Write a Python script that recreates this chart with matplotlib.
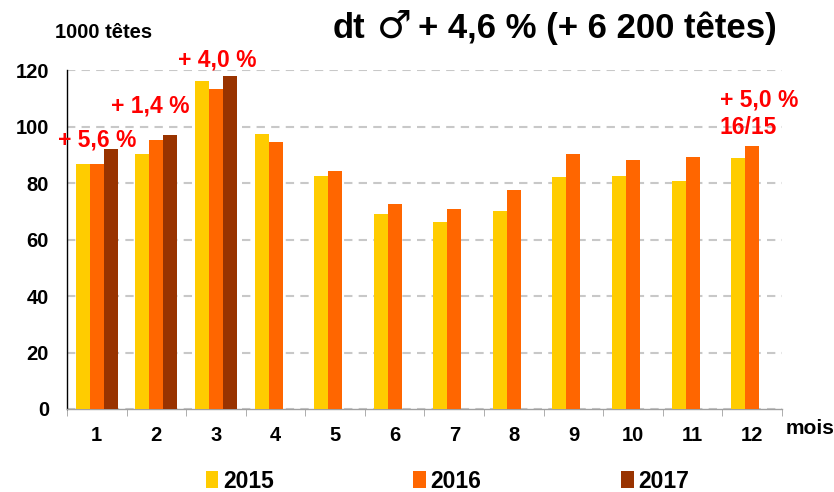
import matplotlib
matplotlib.use("Agg")
import matplotlib.pyplot as plt
import numpy as np
from matplotlib.patches import Patch

plt.rcParams['font.family'] = ['Liberation Sans', 'DejaVu Sans']
plt.rcParams['font.weight'] = 'bold'

months = ['1', '2', '3', '4', '5', '6', '7', '8', '9', '10', '11', '12']
v2015 = [86.7, 90.3, 116.0, 97.2, 82.5, 69.0, 66.2, 70.1, 82.1, 82.6, 80.7, 88.7]
v2016 = [86.7, 95.2, 113.2, 94.4, 84.1, 72.7, 70.9, 77.4, 90.2, 88.0, 89.1, 93.1]
v2017 = [91.9, 97.0, 117.9, np.nan, np.nan, np.nan, np.nan, np.nan, np.nan, np.nan, np.nan, np.nan]
series = ['2015', '2016', '2017']
colors = ['#FFCC00', '#FF6600', '#993300']
yticks = [0, 20, 40, 60, 80, 100, 120]

annotations = [('+ 5,6 %', 0.0, 95.2), ('+ 1,4 %', 0.9, 107.3), ('+ 4,0 %', 2.03, 123.5),
               ('+ 5,0 %', 11.12, 109.4), ('16/15', 10.94, 99.5)]

fig = plt.figure(figsize=(8.34, 4.92), dpi=100)
ax = fig.add_axes([0.0803, 0.1687, 0.8573, 0.689])

x = np.arange(len(months))
w = 0.235
for i, (vals, c) in enumerate(zip([v2015, v2016, v2017], colors)):
    ax.bar(x + (i - 1) * w, vals, width=w, color=c, edgecolor='none', zorder=3)

ax.set_xlim(-0.5, 11.5)
ax.set_ylim(0, 120)
ax.set_yticks(yticks)
ax.set_yticklabels([str(t) for t in yticks], fontsize=14.5, fontweight='bold')
ax.yaxis.grid(True, linestyle=(0, (4, 3)), color='#c8c8c8', linewidth=1.5, zorder=0)
ax.tick_params(axis='y', length=0, pad=13)

ax.set_xticks(x)
ax.set_xticklabels(months, fontsize=14.5, fontweight='bold')
ax.set_xticks(np.arange(-0.5, 12, 1), minor=True)
ax.tick_params(axis='x', which='major', length=0, pad=12)
ax.tick_params(axis='x', which='minor', length=5, color='#a0a0a0', direction='out')

for s in ['top', 'right']:
    ax.spines[s].set_visible(False)
ax.spines['left'].set_color('black')
ax.spines['left'].set_linewidth(1.0)
ax.spines['bottom'].set_color('#a0a0a0')
ax.spines['bottom'].set_linewidth(1.0)

for txt, xx, yy in annotations:
    ax.text(xx, yy, txt, color='#FF0000', fontsize=16.5, fontweight='bold',
            ha='center', va='center', clip_on=False, zorder=5)

fig.text(0.066, 0.933, '1000 têtes', fontsize=14.5, fontweight='bold', ha='left', va='center')
ty = 1 - 38 / 492
fig.text(333 / 834, ty, 'dt', fontsize=25, fontweight='bold', ha='left', va='baseline')
fig.text(377 / 834, ty, '♂', fontsize=28, fontweight='bold', ha='left', va='baseline',
         family=['DejaVu Sans'])
fig.text(777 / 834, ty, '+ 4,6 % (+ 6 200 têtes)', fontsize=25, fontweight='bold',
         ha='right', va='baseline')
fig.text(0.942, 0.13, 'mois', fontsize=15, fontweight='bold', ha='left', va='center')

handles = [Patch(facecolor=c, edgecolor='none') for c in colors]
fig.legend(handles, series, loc='center', bbox_to_anchor=(0.5366, 1 - 481 / 492), ncol=3,
           frameon=False, prop={'size': 16.5, 'weight': 'bold'}, handlelength=0.55,
           handleheight=0.7, handletextpad=0.2, columnspacing=6.1, borderaxespad=0,
           borderpad=0)

fig.savefig('out.png', dpi=100)
